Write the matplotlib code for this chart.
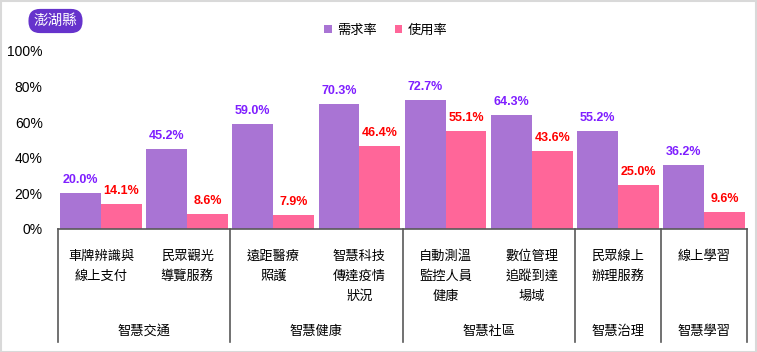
import matplotlib.pyplot as plt
from matplotlib.patches import Rectangle
from matplotlib.transforms import blended_transform_factory
import numpy as np

plt.rcParams['font.family'] = ['Noto Sans CJK TC', 'DejaVu Sans']

# data
items = ['車牌辨識與\n線上支付', '民眾觀光\n導覽服務', '遠距醫療\n照護', '智慧科技\n傳達疫情\n狀況',
         '自動測溫\n監控人員\n健康', '數位管理\n追蹤到達\n場域', '民眾線上\n辦理服務', '線上學習']
demand = [20.0, 45.2, 59.0, 70.3, 72.7, 64.3, 55.2, 36.2]
usage = [14.1, 8.6, 7.9, 46.4, 55.1, 43.6, 25.0, 9.6]
groups = ['智慧交通', '智慧健康', '智慧社區', '智慧治理', '智慧學習']
group_sizes = [2, 2, 2, 1, 1]
series_names = ['需求率', '使用率']

W, H = 757, 352
fig = plt.figure(figsize=(W / 100, H / 100), dpi=100)
ax = fig.add_axes([58 / W, (H - 229) / H, (747 - 58) / W, (229 - 51) / H])

purple = '#A974D4'
pink = '#FF6699'
x = np.arange(len(items))
bw = 0.475
b1 = ax.bar(x - bw / 2, demand, bw, color=purple, label=series_names[0])
b2 = ax.bar(x + bw / 2, usage, bw, color=pink, label=series_names[1])

for bars, vals, col in [(b1, demand, '#7F1FFF'), (b2, usage, '#FF0000')]:
    for rect, v in zip(bars, vals):
        ax.annotate(f'{v:.1f}%', (rect.get_x() + rect.get_width() / 2, v), xytext=(0, 5),
                    textcoords='offset points', ha='center', va='bottom',
                    color=col, fontsize=9, fontweight='bold', family='Liberation Sans')

ax.set_xlim(-0.5, len(items) - 0.5)
ax.set_ylim(0, 100)
ax.set_yticks(range(0, 101, 20))
ax.set_yticklabels([f'{t}%' for t in range(0, 101, 20)], fontsize=10, family='Liberation Sans')
ax.tick_params(axis='y', length=0, pad=11)
ax.set_xticks(x)
ax.set_xticklabels(items, fontsize=9.5, linespacing=1.7, va='top')
ax.tick_params(axis='x', length=0, pad=15)

for s in ['left', 'top', 'right']:
    ax.spines[s].set_visible(False)
ax.spines['bottom'].set_color('#595959')
ax.spines['bottom'].set_linewidth(1.2)

# group separators and labels
trans = blended_transform_factory(ax.transData, ax.transAxes)
low = -(342 - 229) / 178
edges = np.concatenate([[0], np.cumsum(group_sizes)]) - 0.5
for e in edges:
    ax.plot([e, e], [0, low], transform=trans, color='#595959', lw=1.2, clip_on=False)
for g, a, b in zip(groups, edges[:-1], edges[1:]):
    ax.text((a + b) / 2, -(331 - 229) / 178, g, transform=trans, ha='center', va='center',
            fontsize=9.5)

# legend
ax.legend(loc='upper center', bbox_to_anchor=(0.476, 1.22), ncol=2, frameon=False,
          fontsize=9.5, handlelength=0.6, handleheight=0.6, handletextpad=0.4,
          columnspacing=1.3)

# badge
fig.text(55.5 / W, (H - 21) / H, '澎湖縣', color='white', fontsize=10.5, ha='center', va='center',
         bbox=dict(boxstyle='round,pad=0.35,rounding_size=0.8', fc='#6633CC', ec='none'))

# frame
fig.patches.append(Rectangle((0.5 / W, 0.5 / H), 1 - 1.5 / W, 1 - 1.5 / H, transform=fig.transFigure,
                             fill=False, edgecolor='#D9D9D9', lw=1.5))

fig.savefig('out.png', dpi=100)
